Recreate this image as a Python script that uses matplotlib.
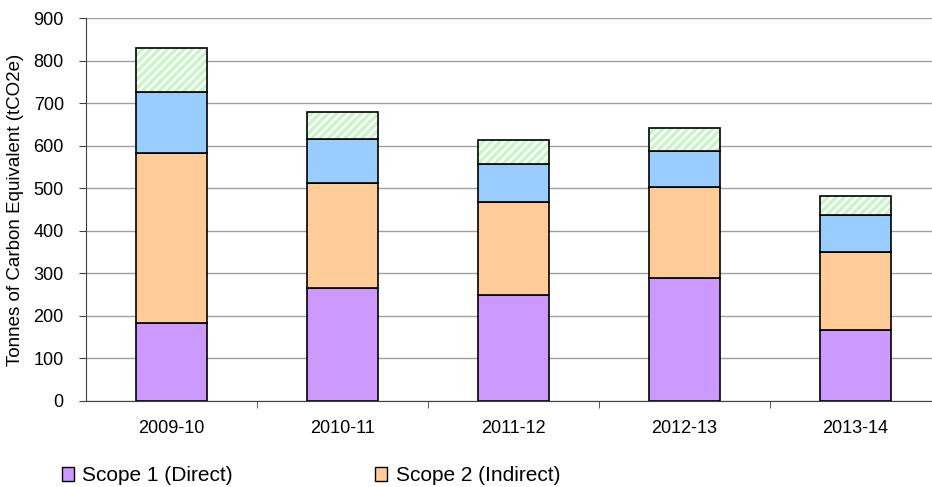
import matplotlib
matplotlib.use('Agg')
import matplotlib.pyplot as plt
import numpy as np
from matplotlib.patches import Patch

plt.rcParams['font.family'] = ['Liberation Sans', 'DejaVu Sans']
plt.rcParams['hatch.linewidth'] = 2.5

YEARS = ['2009-10', '2010-11', '2011-12', '2012-13', '2013-14']
SCOPE1 = [183, 265, 249, 289, 167]
SCOPE2 = [400, 247, 218, 214, 183]
SCOPE3A = [143, 104, 90, 84, 87]
SCOPE3B = [103, 63, 57, 54, 45]

COLORS = ['#CC99FF', '#FFCC99', '#99CCFF']


def main():
    fig = plt.figure(figsize=(9.32, 4.87), dpi=100)
    ax = fig.add_axes([0.0923, 0.1766, 0.917, 0.7864])

    x = np.arange(len(YEARS))
    w = 0.415
    bottom = np.zeros(len(YEARS))
    for vals, col in zip([SCOPE1, SCOPE2, SCOPE3A], COLORS):
        ax.bar(x, vals, w, bottom=bottom, color=col, edgecolor='black',
               linewidth=1.2, zorder=3)
        bottom += np.array(vals)
    ax.bar(x, SCOPE3B, w, bottom=bottom, color='white', hatch='////',
           edgecolor='#C8F5C8', linewidth=0, zorder=3)
    ax.bar(x, SCOPE3B, w, bottom=bottom, fill=False, edgecolor='black',
           linewidth=1.2, zorder=4)

    ax.set_xlim(-0.5, len(YEARS) - 0.5)
    ax.set_ylim(0, 900)
    ax.set_yticks(range(0, 901, 100))
    ax.yaxis.grid(True, color='#A0A0A0', linewidth=1)
    ax.set_axisbelow(True)

    ax.set_xticks(x)
    ax.set_xticklabels(YEARS)
    ax.set_xticks(x[:-1] + 0.5, minor=True)
    ax.tick_params(axis='x', which='major', length=0, pad=14, labelsize=13)
    ax.tick_params(axis='x', which='minor', length=5, color='#404040')
    ax.tick_params(axis='y', length=5, color='#404040', labelsize=13, pad=11)

    for s in ['top', 'right']:
        ax.spines[s].set_visible(False)
    for s in ['left', 'bottom']:
        ax.spines[s].set_color('#404040')

    ax.set_ylabel('Tonnes of Carbon Equivalent (tCO2e)', fontsize=13.5,
                  labelpad=7)

    handles = [Patch(facecolor=COLORS[0], edgecolor='black'),
               Patch(facecolor=COLORS[1], edgecolor='black')]
    fig.legend(handles, ['Scope 1 (Direct)', 'Scope 2 (Indirect)'],
               loc='lower left', bbox_to_anchor=(0.046, -0.035), ncol=2,
               frameon=False, fontsize=15, handlelength=0.6, handleheight=0.6,
               handletextpad=0.4, columnspacing=6.8)

    fig.savefig('out.png', dpi=100)


if __name__ == '__main__':
    main()
